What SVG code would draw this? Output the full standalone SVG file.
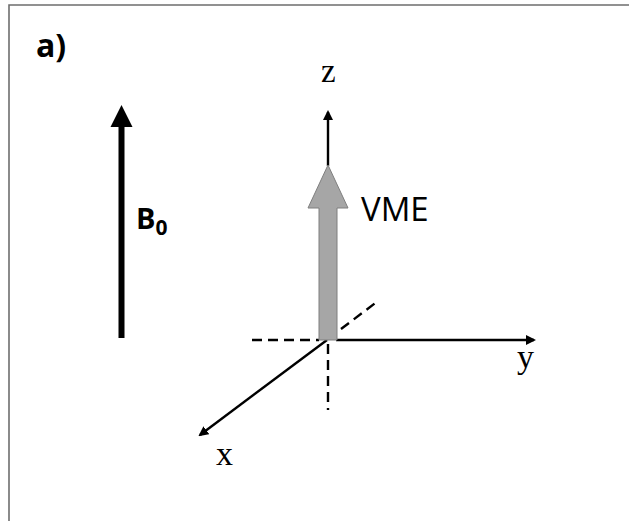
<svg xmlns="http://www.w3.org/2000/svg" width="629" height="521" viewBox="0 0 629 521">
<style>
.frame{fill:none;stroke:#6e6e6e;stroke-width:1.6}
.axis{stroke:#000;stroke-width:2.4;fill:none}
.dash{stroke:#000;stroke-width:2.4;fill:none;stroke-dasharray:10 6}
.serif{font-family:"Liberation Serif","Times New Roman",serif;fill:#000}
.sans{font-family:"Open Sans","Liberation Sans",Arial,sans-serif;fill:#000}
</style>
<defs>
<marker id="ah" markerWidth="10" markerHeight="10" refX="8" refY="5" orient="auto" markerUnits="userSpaceOnUse">
<path d="M0,0 L10,5 L0,10 Z" fill="#000"/>
</marker>
</defs>
<rect width="629" height="521" fill="#fff"/>
<path class="frame" d="M9,525 L9,5 L635,5"/>
<text class="sans" x="36" y="57" font-size="32" font-weight="bold">a)</text>

<g id="b0">
<rect x="118.5" y="125" width="6" height="213" fill="#000"/>
<path d="M121.5,105 L132.5,127 L110.5,127 Z" fill="#000"/>
<text class="sans" x="136" y="229" font-size="29" font-weight="bold">B<tspan font-size="21" dy="6">0</tspan></text>
</g>

<g id="connectors">
<line class="axis" x1="328" y1="166" x2="328" y2="112" marker-end="url(#ah)"/>
<line class="axis" x1="336" y1="340" x2="534" y2="340" marker-end="url(#ah)"/>
<line class="axis" x1="327" y1="340" x2="200" y2="435" marker-end="url(#ah)"/>
<line class="dash" x1="252" y1="340" x2="319" y2="340"/>
<line class="dash" x1="328" y1="344" x2="328" y2="410"/>
<line class="dash" x1="341" y1="329" x2="378" y2="301"/>
</g>

<g id="vme">
<path d="M328,165 L348,208 L337,208 L337,340 L319,340 L319,208 L308,208 Z" fill="#a6a6a6" stroke="#7f7f7f" stroke-width="1"/>
<text class="sans" x="361" y="221" font-size="33">VME</text>
</g>

<g id="labels">
<text class="serif" x="321" y="82" font-size="33">z</text>
<text class="serif" x="517" y="368" font-size="34">y</text>
<text class="serif" x="216" y="465" font-size="34">x</text>
</g>
</svg>
